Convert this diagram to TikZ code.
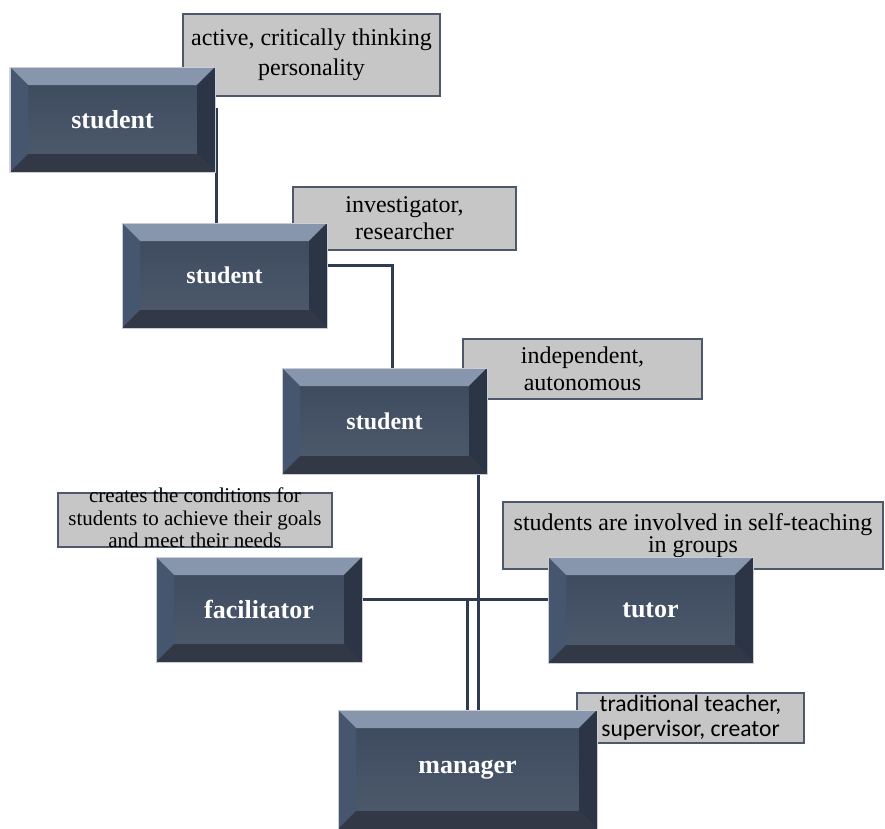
\documentclass[tikz,border=0pt]{standalone}
\usepackage{fontspec}
\setmainfont{Liberation Serif}
\newfontfamily\calfont{Carlito}
\usetikzlibrary{
    calc,
    backgrounds
}

\definecolor{bevtop}{HTML}{8796AD}
\definecolor{bevleft}{HTML}{47566F}
\definecolor{bevright}{HTML}{2B3546}
\definecolor{bevbottom}{HTML}{323845}
\definecolor{facetop}{HTML}{3C495D}
\definecolor{facebottom}{HTML}{4F5B6D}
\definecolor{bevline}{HTML}{C9CED6}
\definecolor{notefill}{HTML}{C6C6C6}
\definecolor{noteline}{HTML}{4D586B}
\definecolor{linkcolor}{HTML}{2F3B4E}

\tikzset{
    bevelbox/.style={
        rectangle, draw=bevline, line width=0.6bp, inner sep=0pt,
        minimum width=205bp, minimum height=105bp,
        text=white, font=\bfseries\fontsize{26bp}{30bp}\selectfont,
        path picture={
            \coordinate (bnw) at (path picture bounding box.north west);
            \coordinate (bne) at (path picture bounding box.north east);
            \coordinate (bsw) at (path picture bounding box.south west);
            \coordinate (bse) at (path picture bounding box.south east);
            \shade[top color=facetop,bottom color=facebottom] (bsw) rectangle (bne);
            \fill[bevtop] (bnw) -- (bne) -- ([shift={(-18bp,-18bp)}]bne) -- ([shift={(18bp,-18bp)}]bnw) -- cycle;
            \fill[bevleft] (bnw) -- ([shift={(18bp,-18bp)}]bnw) -- ([shift={(18bp,18bp)}]bsw) -- (bsw) -- cycle;
            \fill[bevright] (bne) -- ([shift={(-18bp,-18bp)}]bne) -- ([shift={(-18bp,18bp)}]bse) -- (bse) -- cycle;
            \fill[bevbottom] (bsw) -- ([shift={(18bp,18bp)}]bsw) -- ([shift={(-18bp,18bp)}]bse) -- (bse) -- cycle;
        }
    },
    notebox/.style={rectangle, draw=noteline, line width=2bp, fill=notefill, inner sep=0pt},
    notetext/.style={align=center, inner sep=0pt, font=\fontsize{24bp}{27bp}\selectfont},
    link/.style={draw=linkcolor, line width=2.5bp}
}

\begin{document}
\begin{tikzpicture}[x=1bp,y=-1bp]
    \useasboundingbox (0,0) rectangle (885,829);

    % notes
    \node[notebox, minimum width=257bp, minimum height=82bp] (n1) at (311.5,55) {};
    \node[notetext, font=\fontsize{24bp}{30bp}\selectfont] at (n1.center) {active, critically thinking\\personality};
    \node[notebox, minimum width=223bp, minimum height=63bp] (n2) at (404.5,218.5) {};
    \node[notetext] at (n2.center) {investigator,\\researcher};
    \node[notebox, minimum width=239bp, minimum height=60bp] (n3) at (582.5,369) {};
    \node[notetext] at (n3.center) {independent,\\autonomous};
    \node[notebox, minimum width=274bp, minimum height=54bp] (n4) at (195,520) {};
    \node[notetext, font=\fontsize{21bp}{22.5bp}\selectfont] at ([yshift=2bp]n4.center) {creates the conditions for\\students to achieve their goals\\and meet their needs};
    \node[notebox, minimum width=380bp, minimum height=67bp] (n5) at (693,535.5) {};
    \node[notetext, font=\fontsize{24bp}{22bp}\selectfont] at (n5.center) {students are involved in self-teaching\\in groups};
    \node[notebox, minimum width=227bp, minimum height=50bp] (n6) at (690.5,718) {};
    \node[notetext, font=\calfont\fontsize{23.6bp}{25bp}\selectfont] at (n6.center) {traditional teacher,\\supervisor, creator};

    % roles
    \node[bevelbox] (s1) at (112.5,119.5) {student};
    \node[bevelbox, font=\bfseries\fontsize{24bp}{28bp}\selectfont] (s2) at (224.5,275.5) {student};
    \node[bevelbox, font=\bfseries\fontsize{24bp}{28bp}\selectfont, minimum height=106bp] (s3) at (384.5,421) {student};
    \node[bevelbox, minimum width=206bp] (fac) at (259,609.5) {facilitator};
    \node[bevelbox, minimum height=106bp] (tut) at (650.5,610) {tutor};
    \node[bevelbox, minimum width=259bp, minimum height=119bp] (man) at (467.5,769.5) {manager};

    % links
    \begin{scope}[on background layer]
        \draw[link] ([shift={(1bp,12bp)}]s1.east) -- ([xshift=1bp]s1.east |- s2.north);
        \draw[link] ([yshift=10bp]s2.east) -| ([xshift=8bp]s3.north);
        \draw[link] ([xshift=-9bp]s3.south east) -- ([xshift=-9bp]s3.south east |- man.north);
        \coordinate (hub) at ([yshift=10bp]fac.east);
        \draw[link] (hub) -- (hub -| tut.west);
        \draw[link] (hub -| man.north) -- (man.north);
    \end{scope}
\end{tikzpicture}
\end{document}
